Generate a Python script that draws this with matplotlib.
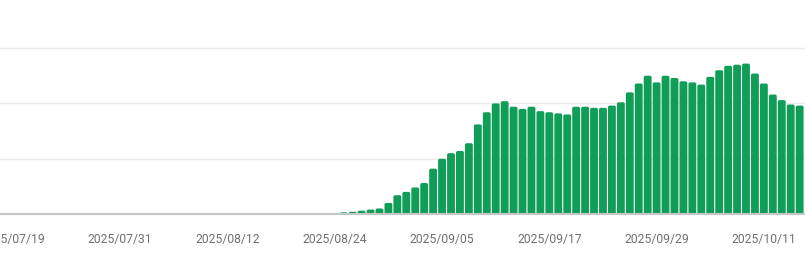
import numpy as np
import pandas as pd
import matplotlib
matplotlib.use('Agg')
import matplotlib.pyplot as plt
import matplotlib.dates as mdates
from matplotlib.patches import FancyBboxPatch

plt.rcParams['font.family'] = ['Roboto', 'DejaVu Sans']

# daily values, 2025/07/17 .. 2025/10/15 (zero until late August)
start = '2025-07-17'
end = '2025-10-15'
values_tail = [0, 1.5, 2, 3, 4, 5, 10, 17, 20, 24, 28, 41, 50, 55, 57, 64,
               81, 92, 100, 102, 97, 95, 97, 93, 92, 91, 90, 97, 97, 96,
               96, 98, 101, 110, 118, 125, 119, 125, 123, 120, 119, 117,
               124, 130, 134, 135, 136, 127, 118, 108, 103, 99, 98]
dates = pd.date_range(start, end, freq='D')
values = [0] * (len(dates) - len(values_tail)) + values_tail

tick_dates = pd.date_range('2025-07-19', '2025-10-11', freq='12D')
yticks = [0, 50, 100, 150]

fig = plt.figure(figsize=(8.05, 2.55), dpi=100)
ax = fig.add_axes([0, 40 / 255, 1, 215 / 255])

x = mdates.date2num(dates)
ymax = 215 / 55.3 * 50
ax.set_xlim(mdates.date2num(pd.Timestamp('2025-07-19')) - 1.45,
            mdates.date2num(pd.Timestamp('2025-10-15')) + 0.6)
ax.set_ylim(0, ymax)

# bars with slightly rounded tops
w = 0.88
aspect = (ymax / 215) / (1 / 8.94)
for xi, v in zip(x, values):
    if v <= 0:
        continue
    p = FancyBboxPatch((xi - w / 2, -5), w, v + 5,
                       boxstyle='round,pad=0,rounding_size=0.2',
                       mutation_aspect=aspect,
                       facecolor='#0f9d58', edgecolor='none', zorder=3)
    ax.add_patch(p)

ax.set_yticks(yticks)
ax.yaxis.grid(True, color='#ebebeb', linewidth=1, zorder=0)
ax.tick_params(axis='y', left=False, labelleft=False)

ax.set_xticks(mdates.date2num(tick_dates))
ax.xaxis.set_major_formatter(mdates.DateFormatter('%Y/%m/%d'))
ax.tick_params(axis='x', length=0, pad=13, labelsize=8.7, labelcolor='#707070')

for s in ['top', 'left', 'right']:
    ax.spines[s].set_visible(False)
ax.spines['bottom'].set_color('#c6c6c6')
ax.spines['bottom'].set_linewidth(1.5)
ax.spines['bottom'].set_zorder(4)

fig.savefig('out.png', dpi=100)
